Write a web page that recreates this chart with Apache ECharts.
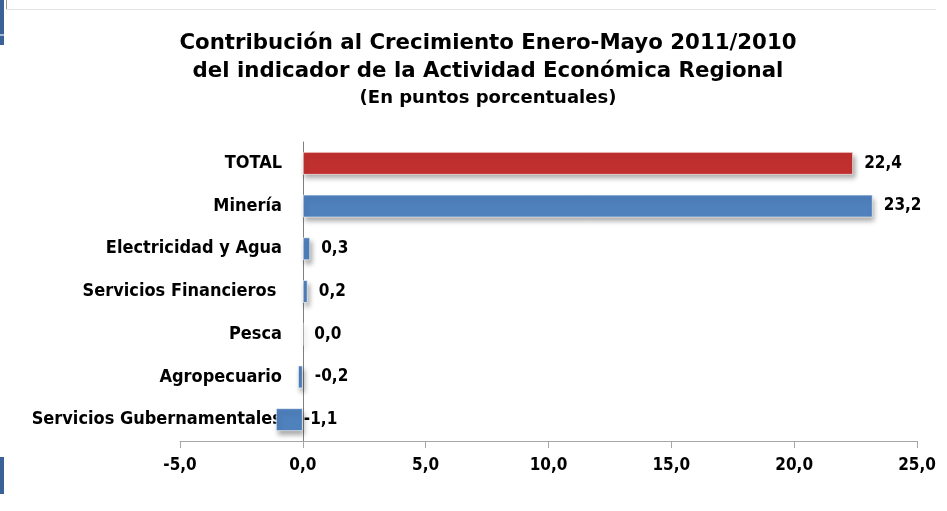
<!DOCTYPE html>
<html>
<head>
<meta charset="utf-8">
<script src="https://cdn.jsdelivr.net/npm/echarts@6/dist/echarts.min.js"></script>
<style>
  html, body { margin: 0; padding: 0; background: #fff; }
  #chart { width: 947px; height: 511px; }
</style>
</head>
<body>
<div id="chart"></div>
<script>
// sectores (de arriba hacia abajo)
var categories = ['TOTAL', 'Minería', 'Electricidad y Agua', 'Servicios Financieros ', 'Pesca', 'Agropecuario', 'Servicios Gubernamentales'];
var values = [22.4, 23.2, 0.3, 0.2, 0.0, -0.2, -1.1];
var xTicks = { min: -5, max: 25, step: 5 };

var fmt = function (v) { return Number(v).toFixed(1).replace('.', ','); };
var labelFont = "'DejaVu Sans Condensed', sans-serif";
var titleFont = "'DejaVu Sans', sans-serif";

var seriesData = values.map(function (v, i) {
  var item = { value: v, itemStyle: { color: i === 0 ? '#C0302F' : '#4F81BD' } };
  // etiquetas de negativos quedan pegadas al eje
  if (v < 0) item.label = { distance: i === values.length - 1 ? 1 : 12 };
  return item;
});

var chart = echarts.init(document.getElementById('chart'));
chart.setOption({
  backgroundColor: '#fff',
  animation: false,
  title: {
    text: 'Contribución al Crecimiento Enero-Mayo 2011/2010\ndel indicador de la Actividad Económica Regional',
    subtext: '(En puntos porcentuales)',
    left: 483,
    textAlign: 'center',
    top: 24,
    itemGap: 4,
    textStyle: {
      fontFamily: titleFont,
      fontWeight: 'bold',
      fontSize: 21.3,
      lineHeight: 28,
      color: '#000'
    },
    subtextStyle: {
      fontFamily: titleFont,
      fontWeight: 'bold',
      fontSize: 18,
      color: '#000'
    }
  },
  grid: { left: 180, right: 30, top: 142, bottom: 70, outerBoundsMode: 'none' },
  xAxis: {
    type: 'value',
    min: xTicks.min,
    max: xTicks.max,
    interval: xTicks.step,
    splitLine: { show: false },
    axisLine: { show: true, lineStyle: { color: '#A6A6A6', width: 1 } },
    axisTick: { show: true, length: 7, lineStyle: { color: '#A6A6A6' } },
    axisLabel: {
      formatter: fmt,
      margin: 16,
      fontFamily: labelFont,
      fontWeight: 'bold',
      fontSize: 17,
      color: '#000'
    }
  },
  yAxis: {
    type: 'category',
    data: categories,
    inverse: true,
    axisLine: { show: true, onZero: true, lineStyle: { color: '#7F7F7F', width: 1 } },
    axisTick: { show: false },
    axisLabel: {
      margin: -102,
      fontFamily: labelFont,
      fontWeight: 'bold',
      fontSize: 18,
      color: '#000'
    }
  },
  series: [{
    type: 'bar',
    data: seriesData,
    barWidth: 23,
    itemStyle: {
      borderColor: 'rgba(255,255,255,0.6)',
      borderWidth: 1,
      shadowColor: 'rgba(0,0,0,0.35)',
      shadowBlur: 5,
      shadowOffsetX: 2,
      shadowOffsetY: 4
    },
    label: {
      show: true,
      position: 'right',
      distance: 11,
      formatter: function (p) { return fmt(p.value); },
      fontFamily: labelFont,
      fontWeight: 'bold',
      fontSize: 17,
      color: '#000'
    }
  }],
  graphic: [
    { type: 'rect', left: 0, top: 0, shape: { width: 4, height: 45 }, style: { fill: '#3B6296' } },
    { type: 'rect', left: 0, top: 34, shape: { width: 4, height: 2 }, style: { fill: '#A9BCD6' } },
    { type: 'rect', left: 0, top: 457, shape: { width: 4, height: 37 }, style: { fill: '#3B6296' } },
    { type: 'rect', left: 6, top: 0, shape: { width: 1, height: 10 }, style: { fill: '#9A9A9A' } },
    { type: 'rect', left: 6, top: 9, shape: { width: 930, height: 1 }, style: { fill: '#E4E4E4' } }
  ]
});
</script>
</body>
</html>
